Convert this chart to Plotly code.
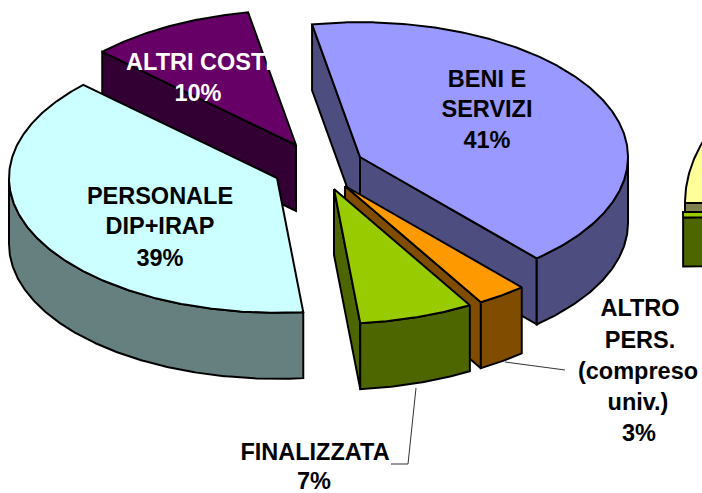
import math
import plotly.graph_objects as go

# --- data ---
SLICE_NAMES = ["ALTRI COSTI", "PERSONALE DIP+IRAP", "BENI E SERVIZI", "ALTRO PERS. (compreso univ.)", "FINALIZZATA"]
SHARES = [10, 38.7, 41.4, 3, 6.9]    # percent (labels show them rounded)
# clockwise pie order, starting from the first slice after 12 o'clock
PIE_ORDER = ["BENI E SERVIZI", "ALTRO PERS. (compreso univ.)", "FINALIZZATA", "PERSONALE DIP+IRAP", "ALTRI COSTI"]

# --- style and layout ---
TOP_COLORS = ["#660066", "#CCFFFF", "#9999FF", "#FF9900", "#99CC00"]
SIDE_COLORS = ["#330033", "#668080", "#4D4D80", "#804D00", "#4D6600"]
APEX_X = [296, 277, 360, 345, 334]   # exploded slice apex
APEX_Y = [145, 178, 157, 186, 189]
FIRST_ANGLE = -10.3
RADIUS = 268
TILT = 0.503
DEPTH = 66

LABEL_TEXT = ["BENI E", "SERVIZI", "41%", "PERSONALE", "DIP+IRAP", "39%", "ALTRI COSTI", "10%",
              "ALTRO", "PERS.", "(compreso", "univ.)", "3%", "FINALIZZATA", "7%"]
LABEL_X = [487, 487, 487, 160, 160, 160, 199, 198, 640, 640, 638, 638, 639, 315, 314]
LABEL_Y = [81, 111, 142, 198, 228, 260, 64, 95, 310, 342, 373, 404, 435, 454, 483]
LABEL_COLOR = ["#000000"] * 6 + ["#FFFFFF"] * 2 + ["#000000"] * 7

LEADER_X = [[505, 565], [416, 408, 391]]
LEADER_Y = [[362, 370], [388, 464, 464]]

# neighbouring chart cut off by the right edge
NEXT_YELLOW = dict(apex=(1085, 203), angles=(270, 300), radius=400, top="#FFFF99", side="#808050", depth=20)
NEXT_GREEN = dict(apex=(1083, 212), angles=(268.5, 270), radius=400, top="#99CC00", side="#4D6600", depth=49)
NEXT_TILT = 0.52

fig = go.Figure()


def rim(cx, cy, r, k, a0, a1, dy=0):
    n = max(2, int(abs(a1 - a0) * 2))
    pts = []
    for i in range(n + 1):
        a = math.radians(a0 + (a1 - a0) * i / n)
        pts.append((cx + r * math.sin(a), cy - k * r * math.cos(a) + dy))
    return pts


def poly(pts, color):
    fig.add_trace(go.Scatter(
        x=[p[0] for p in pts] + [pts[0][0]],
        y=[p[1] for p in pts] + [pts[0][1]],
        mode="lines", fill="toself", fillcolor=color,
        line=dict(color="#000000", width=2),
        hoverinfo="skip", showlegend=False))


def radial_face(cx, cy, r, k, a, depth, color):
    p = rim(cx, cy, r, k, a, a + 0.001)[0]
    poly([(cx, cy), p, (p[0], p[1] + depth), (cx, cy + depth)], color)


def slice3d(cx, cy, r, k, a0, a1, depth, top, side):
    if math.sin(math.radians(a0)) < 0:
        radial_face(cx, cy, r, k, a0, depth, side)
    if math.sin(math.radians(a1)) > 0:
        radial_face(cx, cy, r, k, a1, depth, side)
    f0, f1 = max(a0, 90), min(a1, 270)
    if f1 > f0:
        poly(rim(cx, cy, r, k, f0, f1) + rim(cx, cy, r, k, f1, f0, depth), side)
    poly([(cx, cy)] + rim(cx, cy, r, k, a0, a1), top)


# angles from the shares
angles = {}
a = FIRST_ANGLE
for name in PIE_ORDER:
    s = SHARES[SLICE_NAMES.index(name)]
    angles[name] = (a, a + s * 3.6)
    a += s * 3.6

# neighbouring chart fragment
yx, yy = NEXT_YELLOW["apex"]
radial_face(yx, yy, NEXT_YELLOW["radius"], NEXT_TILT, NEXT_YELLOW["angles"][0], NEXT_YELLOW["depth"], NEXT_YELLOW["side"])
poly([(yx, yy)] + rim(yx, yy, NEXT_YELLOW["radius"], NEXT_TILT, *NEXT_YELLOW["angles"]), NEXT_YELLOW["top"])
gx, gy = NEXT_GREEN["apex"]
radial_face(gx, gy, NEXT_GREEN["radius"], NEXT_TILT, NEXT_GREEN["angles"][0], NEXT_GREEN["depth"], NEXT_GREEN["side"])
poly([(gx, gy)] + rim(gx, gy, NEXT_GREEN["radius"], NEXT_TILT, *NEXT_GREEN["angles"]), NEXT_GREEN["top"])

# slices, back to front
for i, name in enumerate(SLICE_NAMES):
    a0, a1 = angles[name]
    slice3d(APEX_X[i], APEX_Y[i], RADIUS, TILT, a0, a1, DEPTH, TOP_COLORS[i], SIDE_COLORS[i])

for lx, ly in zip(LEADER_X, LEADER_Y):
    fig.add_trace(go.Scatter(x=lx, y=ly, mode="lines", line=dict(color="#333333", width=1),
                             hoverinfo="skip", showlegend=False))

fig.add_trace(go.Scatter(
    x=LABEL_X, y=LABEL_Y, mode="text", text=LABEL_TEXT, textposition="middle center",
    textfont=dict(family="Liberation Sans", size=23.5, color=LABEL_COLOR, weight="bold"),
    hoverinfo="skip", showlegend=False, cliponaxis=False))

fig.update_layout(
    width=702, height=493, margin=dict(l=0, r=0, t=0, b=0),
    paper_bgcolor="#FFFFFF", plot_bgcolor="#FFFFFF", showlegend=False,
    xaxis=dict(range=[0, 702], visible=False, fixedrange=True),
    yaxis=dict(range=[493, 0], visible=False, fixedrange=True),
)
fig.write_html("out.html", config=dict(displayModeBar=False),
               post_script="document.body.style.margin='0';document.body.style.overflow='hidden';")
